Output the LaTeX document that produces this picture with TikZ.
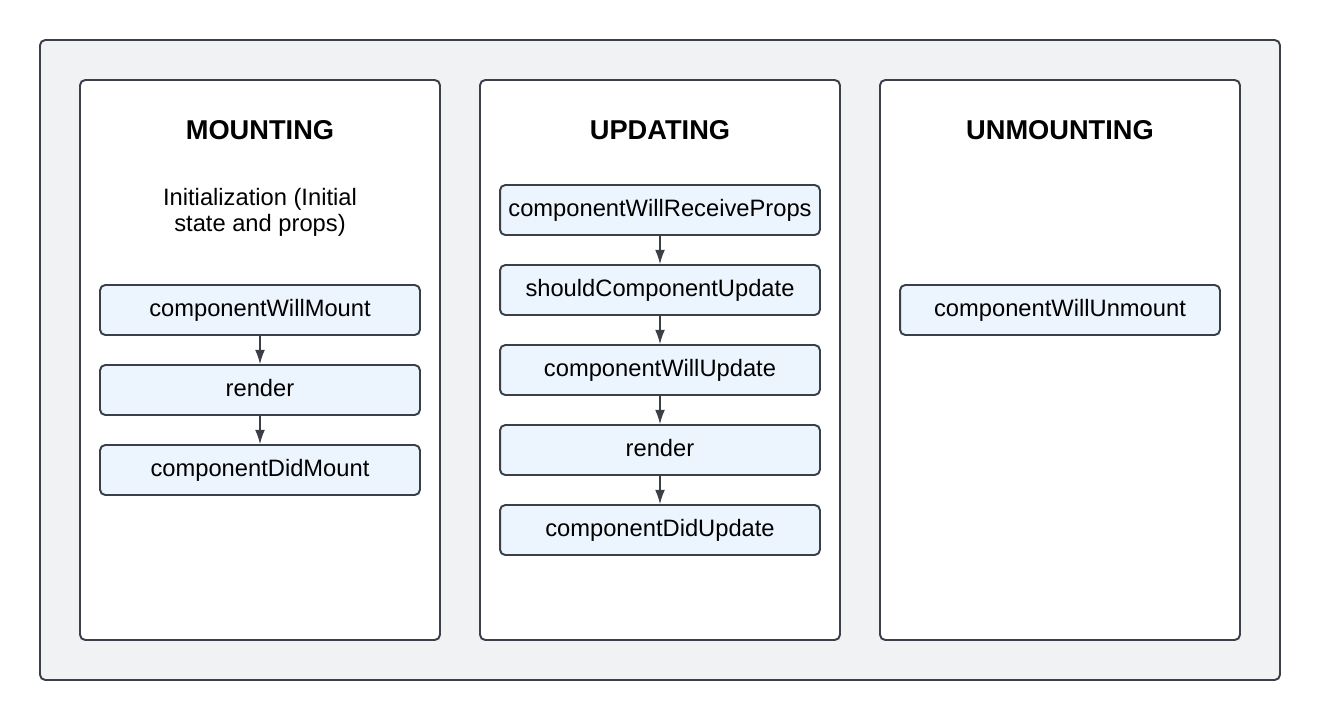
\documentclass[tikz,border=0pt]{standalone}
\usepackage{fontspec}
\setmainfont{Liberation Sans}
\usetikzlibrary{arrows.meta}
\definecolor{edge}{HTML}{3B3F47}
\definecolor{outerbg}{HTML}{F1F2F4}
\definecolor{hookfill}{HTML}{ECF4FE}
\begin{document}
\begin{tikzpicture}[x=0.02cm,y=-0.02cm,
		panel/.style={draw=edge,line width=1.1pt,rounded corners=3pt},
		hook/.style={draw=edge,fill=hookfill,line width=1.1pt,rounded corners=3pt,minimum width=6.4cm,minimum height=1cm,inner sep=0pt,text height=1.6ex,text depth=0.3ex,font=\fontsize{13.5}{16}\selectfont},
		phase/.style={font=\fontsize{15.5}{18}\selectfont\bfseries},
		flow/.style={draw=edge,line width=0.6pt,-{Latex[length=8pt,width=5.5pt]}}]
	\useasboundingbox (0,0) rectangle (1320,720);
	% frame and the three phases
	\filldraw[panel,fill=outerbg] (40,40) rectangle (1280,680);
	\filldraw[panel,fill=white] (80,80) rectangle (440,640);
	\filldraw[panel,fill=white] (480,80) rectangle (840,640);
	\filldraw[panel,fill=white] (880,80) rectangle (1240,640);
	\node[phase] (mtitle) at (260,130) {MOUNTING};
	\node[phase] (utitle) at (660,130) {UPDATING};
	\node[phase] (xtitle) at (1060,130) {UNMOUNTING};
	% mounting
	\node[align=center,font=\fontsize{13.5}{14.8}\selectfont] (init) at (260,212) {Initialization (Initial\\state and props)};
	\node[hook] (cwm) at (260,310) {componentWillMount};
	\node[hook] (mrender) at (260,390) {render};
	\node[hook] (cdm) at (260,470) {componentDidMount};
	\draw[flow] (cwm) -- (mrender);
	\draw[flow] (mrender) -- (cdm);
	% updating
	\node[hook] (cwrp) at (660,210) {componentWillReceiveProps};
	\node[hook] (scu) at (660,290) {shouldComponentUpdate};
	\node[hook] (cwu) at (660,370) {componentWillUpdate};
	\node[hook] (urender) at (660,450) {render};
	\node[hook] (cdu) at (660,530) {componentDidUpdate};
	\draw[flow] (cwrp) -- (scu);
	\draw[flow] (scu) -- (cwu);
	\draw[flow] (cwu) -- (urender);
	\draw[flow] (urender) -- (cdu);
	% unmounting
	\node[hook] (cwun) at (1060,310) {componentWillUnmount};
\end{tikzpicture}
\end{document}
